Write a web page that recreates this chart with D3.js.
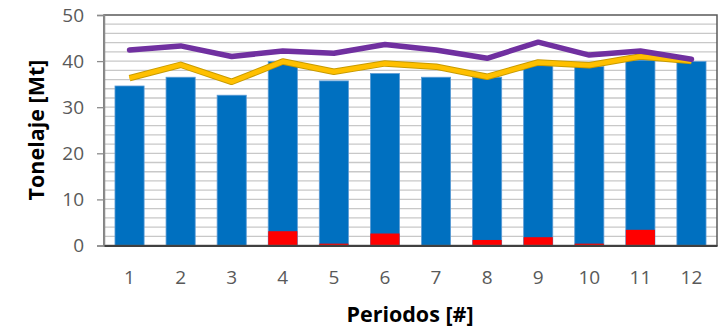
<!DOCTYPE html>
<html>
<head>
<meta charset="utf-8">
<script src="https://cdn.jsdelivr.net/npm/d3@7"></script>
<style>
  body { margin: 0; background: #fff; }
  text { font-family: "Open Sans", "Liberation Sans", sans-serif; }
</style>
</head>
<body>
<div id="chart"></div>
<script>
// chart data
var periodos = [1, 2, 3, 4, 5, 6, 7, 8, 9, 10, 11, 12];
var tonelajeTotal = [34.6, 36.5, 32.6, 39.9, 35.7, 37.3, 36.5, 36.5, 39.0, 38.8, 40.2, 39.9];
var tonelajeRojo = [0, 0, 0, 3.1, 0.4, 2.6, 0, 1.2, 1.8, 0.4, 3.4, 0];
var lineaMorada = [42.4, 43.3, 41.0, 42.2, 41.7, 43.6, 42.4, 40.6, 44.1, 41.3, 42.2, 40.4];
var lineaAmarilla = [36.3, 39.2, 35.5, 39.9, 37.7, 39.5, 38.8, 36.6, 39.7, 39.1, 41.0, 40.0];
var yTicks = [0, 10, 20, 30, 40, 50];

function init() {
    var w = 721;
    var h = 329;
    var margin = {top: 15, right: 4, bottom: 83.5, left: 104};
    var iw = w - margin.left - margin.right;
    var ih = h - margin.top - margin.bottom;

    var svg = d3.select("#chart")
                .append("svg")
                .attr("width", w)
                .attr("height", h);

    var g = svg.append("g")
               .attr("transform", "translate(" + margin.left + "," + margin.top + ")");

    var x = d3.scaleBand()
              .domain(periodos)
              .range([0, iw])
              .paddingInner(0.43)
              .paddingOuter(0.215);

    var y = d3.scaleLinear()
              .domain([0, 50])
              .range([ih, 0]);

    // minor gridlines every 2 Mt
    g.selectAll(".grid")
     .data(d3.range(2, 50, 2))
     .enter()
     .append("line")
     .attr("x1", 0)
     .attr("x2", iw)
     .attr("y1", d => y(d))
     .attr("y2", d => y(d))
     .attr("stroke", "#c8c8c8")
     .attr("stroke-width", 1.3);

    // blue bars
    g.selectAll(".bar")
     .data(tonelajeTotal)
     .enter()
     .append("rect")
     .attr("x", (d, i) => x(periodos[i]))
     .attr("y", d => y(d))
     .attr("width", x.bandwidth())
     .attr("height", d => ih - y(d))
     .attr("fill", "#0070c0")
     .attr("stroke", "#5b9bd5")
     .attr("stroke-width", 0.8);

    // red bars
    g.selectAll(".bar-red")
     .data(tonelajeRojo)
     .enter()
     .append("rect")
     .attr("x", (d, i) => x(periodos[i]))
     .attr("y", d => y(d))
     .attr("width", x.bandwidth())
     .attr("height", d => ih - y(d))
     .attr("fill", "#ff0000");

    var line = d3.line()
                 .x((d, i) => x(periodos[i]) + x.bandwidth() / 2)
                 .y(d => y(d));

    // yellow line with darker edge
    g.append("path")
     .datum(lineaAmarilla)
     .attr("d", line)
     .attr("fill", "none")
     .attr("stroke", "#c89b00")
     .attr("stroke-width", 6.5)
     .attr("stroke-linejoin", "round");
    g.append("path")
     .datum(lineaAmarilla)
     .attr("d", line)
     .attr("fill", "none")
     .attr("stroke", "#ffc000")
     .attr("stroke-width", 4.5)
     .attr("stroke-linejoin", "round");

    // purple line
    g.append("path")
     .datum(lineaMorada)
     .attr("d", line)
     .attr("fill", "none")
     .attr("stroke", "#7030a0")
     .attr("stroke-width", 5.5)
     .attr("stroke-linejoin", "round")
     .attr("stroke-linecap", "round");

    // frame
    g.append("rect")
     .attr("x", 0)
     .attr("y", 0)
     .attr("width", iw)
     .attr("height", ih)
     .attr("fill", "none")
     .attr("stroke", "#595959")
     .attr("stroke-width", 1.5);

    // y axis
    var yAxis = g.append("g")
                 .call(d3.axisLeft(y).tickValues(yTicks).tickSize(7).tickPadding(13));
    yAxis.select(".domain").attr("stroke", "#8c8c8c").attr("stroke-width", 1.5);
    yAxis.selectAll(".tick line").attr("stroke", "#8c8c8c").attr("stroke-width", 1.3);
    yAxis.selectAll("text")
         .attr("fill", "#595959")
         .style("font-size", "19px")
         .style("font-family", "'Open Sans', sans-serif");

    // x axis
    var xAxis = g.append("g")
                 .attr("transform", "translate(0," + ih + ")")
                 .call(d3.axisBottom(x).tickSize(0).tickPadding(25));
    xAxis.select(".domain").attr("stroke", "#404040").attr("stroke-width", 2);
    xAxis.selectAll("text")
         .attr("fill", "#595959")
         .style("font-size", "19px")
         .style("font-family", "'Open Sans', sans-serif");

    // axis titles
    svg.append("text")
       .attr("x", 410)
       .attr("y", 322)
       .attr("text-anchor", "middle")
       .style("font-size", "21.5px")
       .style("font-weight", "bold")
       .attr("fill", "#000")
       .text("Periodos [#]");

    svg.append("text")
       .attr("transform", "translate(44,130) rotate(-90)")
       .attr("text-anchor", "middle")
       .style("font-size", "21.5px")
       .style("font-weight", "bold")
       .attr("fill", "#000")
       .text("Tonelaje [Mt]");
}

window.onload = init;
</script>
</body>
</html>
